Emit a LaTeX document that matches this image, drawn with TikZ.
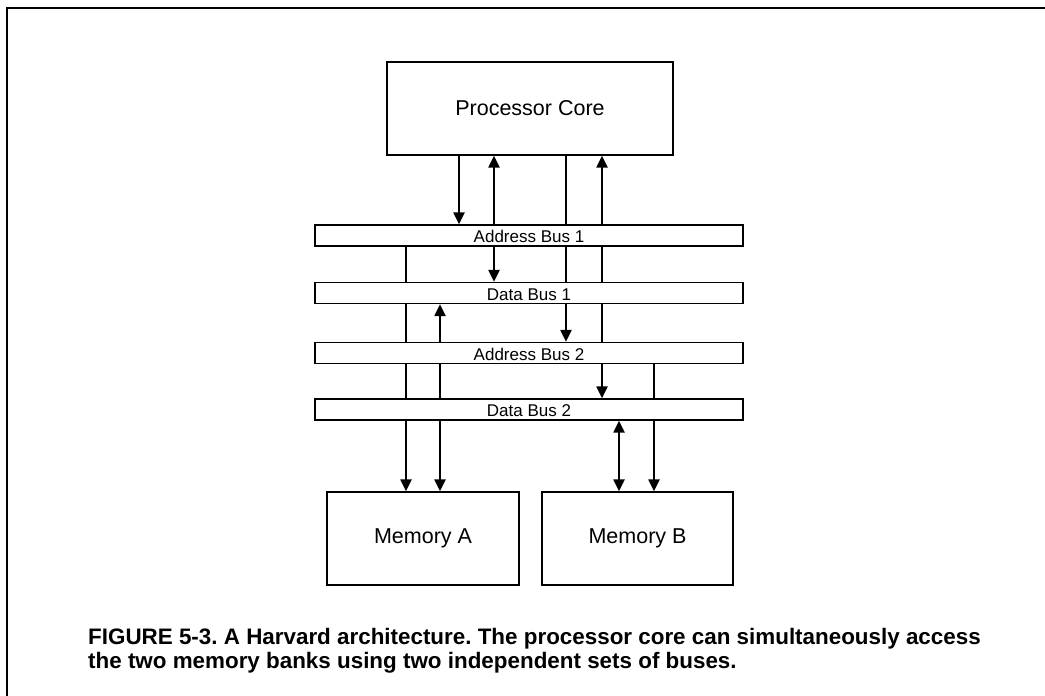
\documentclass[tikz,border=0pt]{standalone}
\usepackage{fontspec}
\setmainfont{Liberation Sans}
\usetikzlibrary{arrows.meta}
\pgfdeclarelayer{wires}
\pgfsetlayers{wires,main}
\frenchspacing

\begin{document}
\begin{tikzpicture}[x=1pt,y=-1pt,
  unit/.style={draw, line width=1.3pt, fill=white, inner sep=0pt,
    minimum width=#1, minimum height=93pt,
    font=\fontsize{21.5}{24}\selectfont},
  bus/.style={draw, line width=1.3pt, fill=white, inner sep=0pt,
    minimum width=428pt, minimum height=21pt,
    text height=14pt, text depth=0pt,
    font=\fontsize{17}{19}\selectfont},
  wire/.style={line width=2.2pt},
  tip/.tip={Triangle[length=12pt,width=11pt]},
  caption/.style={anchor=north west, inner sep=0pt, align=left,
    font=\bfseries\fontsize{22.4}{24.5}\selectfont}
]
\useasboundingbox (0,0) rectangle (1045,696);

% outer frame (top and left rules)
\draw[line width=2pt] (7,696) -- (7,8) -- (1045,8);

% blocks
\node[unit=286pt] (pc)   at (530,108.5) {Processor Core};
\node[unit=192pt] (mema) at (423,538.5) {Memory A};
\node[unit=191pt] (memb) at (637.5,538.5) {Memory B};

% buses
\node[bus] (ab1) at (529,235.5) {Address Bus 1};
\node[bus] (db1) at (529,293)   {Data Bus 1};
\node[bus] (ab2) at (529,353)   {Address Bus 2};
\node[bus] (db2) at (529,409.5) {Data Bus 2};

% wire columns
\coordinate (c1) at (406,0);
\coordinate (c2) at (440,0);
\coordinate (c3) at (459,0);
\coordinate (c4) at (494,0);
\coordinate (c5) at (566,0);
\coordinate (c6) at (602,0);
\coordinate (c7) at (619,0);
\coordinate (c8) at (654,0);

% connections, drawn behind the buses they cross
\begin{pgfonlayer}{wires}
  \draw[wire,-tip]    (pc.south -| c3) -- (ab1.north -| c3);
  \draw[wire,tip-tip] (pc.south -| c4) -- (db1.north -| c4);
  \draw[wire,-tip]    (pc.south -| c5) -- (ab2.north -| c5);
  \draw[wire,tip-tip] (pc.south -| c6) -- (db2.north -| c6);
  \draw[wire,-tip]    (ab1.south -| c1) -- (mema.north -| c1);
  \draw[wire,tip-tip] (db1.south -| c2) -- (mema.north -| c2);
  \draw[wire,tip-tip] (db2.south -| c7) -- (memb.north -| c7);
  \draw[wire,-tip]    (ab2.south -| c8) -- (memb.north -| c8);
\end{pgfonlayer}

% caption
\node[caption] (cap) at (88,628)
  {FIGURE 5-3. A Harvard architecture. The processor core can simultaneously access\\
   the two memory banks using two independent sets of buses.};
\end{tikzpicture}
\end{document}
